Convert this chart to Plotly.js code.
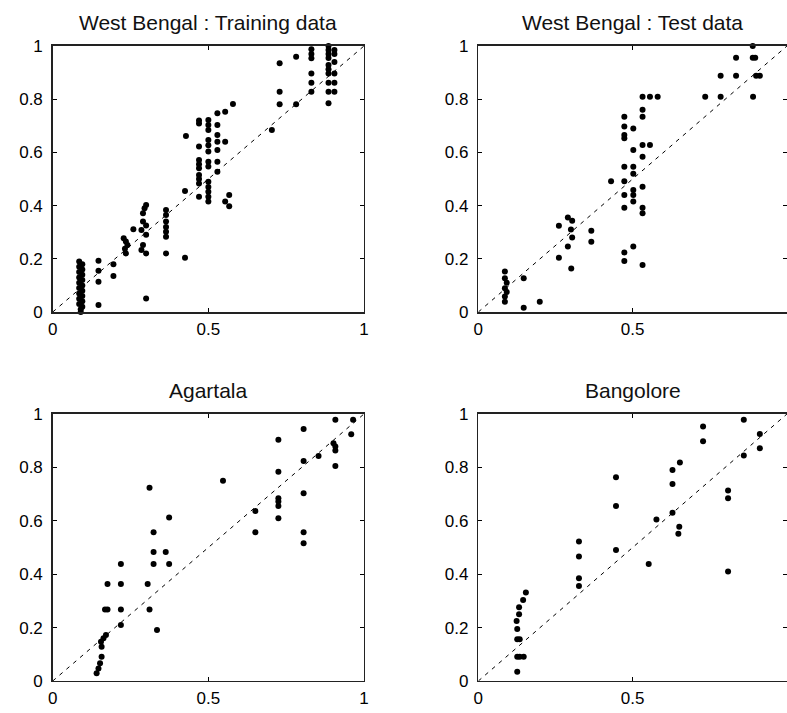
<!DOCTYPE html>
<html>
<head>
<meta charset="utf-8">
<script src="https://cdn.plot.ly/plotly-3.0.1.min.js"></script>
<style>html,body{margin:0;padding:0;background:#fff;}#plot{width:787px;height:713px;}</style>
</head>
<body>
<div id="plot"></div>
<script>
// ---- data ----
var titles = ["West Bengal : Training data", "West Bengal : Test data", "Agartala", "Bangolore"];
var xTickVals = [0, 0.5, 1];
var xTickText = ["0", "0.5", "1"];
var yTickVals = [0, 0.2, 0.4, 0.6, 0.8, 1];
var yTickText = ["0", "0.2", "0.4", "0.6", "0.8", "1"];
var diag = [0, 1];

var trainX = [0.085,0.095,0.085,0.095,0.085,0.095,0.085,0.095,0.085,0.095,0.085,0.095,0.085,0.095,0.085,0.095,0.085,0.095,0.09,0.09,
  0.147,0.147,0.147,0.147, 0.195,0.195,
  0.228,0.235,0.24,0.232,0.235, 0.259,
  0.300,0.295,0.29,0.29,0.30,0.285,0.30,0.29,0.285,0.30,0.30,
  0.364,0.364,0.364,0.364,0.364,0.364,0.364,
  0.425,0.425,0.428,
  0.47,0.47,0.47,0.47,0.47,0.47,0.47,0.47,0.47,0.47,
  0.50,0.50,0.50,0.50,0.50,0.50,0.50,0.50,0.50,0.50,0.50,0.50,0.50,
  0.529,0.529,0.529,0.529,0.529,0.529,0.529,
  0.554,0.579,0.554,0.567,0.554,0.567,
  0.704,0.729,0.729,0.729,0.782,0.782,
  0.831,0.831,0.831,0.831,0.831,0.831,
  0.886,0.886,0.886,0.886,0.886,0.886,0.886,0.886,0.886,0.886,
  0.905,0.905,0.905,0.905,0.905,0.905];
var trainY = [0.19,0.18,0.17,0.16,0.15,0.14,0.13,0.12,0.11,0.10,0.09,0.08,0.07,0.06,0.05,0.04,0.03,0.02,0.01,0.0,
  0.193,0.155,0.114,0.026, 0.18,0.135,
  0.277,0.265,0.252,0.238,0.22, 0.311,
  0.402,0.39,0.371,0.34,0.325,0.308,0.29,0.252,0.233,0.22,0.051,
  0.383,0.365,0.34,0.32,0.302,0.283,0.22,
  0.204,0.455,0.662,
  0.72,0.709,0.622,0.571,0.555,0.54,0.515,0.50,0.483,0.433,
  0.722,0.703,0.684,0.647,0.627,0.603,0.565,0.547,0.49,0.47,0.452,0.433,0.415,
  0.747,0.703,0.665,0.64,0.609,0.565,0.527,
  0.753,0.782,0.64,0.44,0.415,0.398,
  0.684,0.935,0.828,0.781,0.96,0.781,
  0.988,0.97,0.954,0.897,0.862,0.828,
  1.0,0.985,0.97,0.955,0.929,0.913,0.897,0.862,0.828,0.785,
  0.985,0.97,0.94,0.897,0.862,0.828];

var testX = [0.086,0.086,0.092,0.086,0.092,0.086,0.086,
  0.147,0.147,0.199,
  0.261,0.261,0.29,0.304,0.30,0.304,0.29,0.301,
  0.366,0.366,0.43,
  0.473,0.473,0.473,0.473,0.473,0.473,0.473,0.473,0.473,0.473,
  0.502,0.502,0.502,0.502,0.502,0.502,0.502,0.502,
  0.532,0.532,0.532,0.532,0.532,0.532,0.532,0.532,0.532,
  0.556,0.581,0.556,
  0.735,0.785,0.785,0.835,0.835,0.889,0.889,0.897,0.90,0.912,0.89];
var testY = [0.152,0.127,0.11,0.089,0.075,0.058,0.039,
  0.127,0.016,0.039,
  0.324,0.204,0.355,0.343,0.31,0.28,0.246,0.164,
  0.305,0.264,0.492,
  0.734,0.697,0.665,0.653,0.546,0.492,0.44,0.392,0.224,0.192,
  0.69,0.609,0.546,0.52,0.459,0.44,0.415,0.246,
  0.809,0.76,0.734,0.628,0.584,0.471,0.392,0.371,0.177,
  0.809,0.809,0.628,
  0.809,0.809,0.888,0.956,0.888,1.0,0.956,0.956,0.888,0.888,0.809];

var agartalaX = [0.141,0.147,0.152,0.157,0.157,0.155,0.163,0.171,
  0.168,0.176,0.176,0.219,0.219,0.219,0.219,
  0.305,0.311,0.311,0.324,0.324,0.324,0.335,0.363,0.374,0.374,
  0.547,0.651,0.651,0.725,0.725,0.725,0.725,0.725,0.725,
  0.806,0.806,0.806,0.806,0.806,0.854,0.908,0.902,0.908,0.908,0.908,0.965,0.959];
var agartalaY = [0.029,0.047,0.066,0.091,0.128,0.147,0.16,0.172,
  0.268,0.268,0.363,0.268,0.363,0.21,0.438,
  0.363,0.268,0.724,0.557,0.483,0.438,0.191,0.483,0.438,0.612,
  0.75,0.637,0.557,0.903,0.784,0.684,0.672,0.655,0.609,
  0.944,0.824,0.703,0.557,0.516,0.843,0.978,0.89,0.878,0.863,0.805,0.978,0.924];

var bangaloreX = [0.126,0.126,0.134,0.147,0.126,0.134,0.126,0.124,0.132,0.132,0.145,0.154,
  0.326,0.326,0.326,0.326,0.446,0.446,0.446,
  0.552,0.577,0.629,0.629,0.629,0.653,0.651,0.648,
  0.728,0.728,0.809,0.809,0.809,0.86,0.86,0.912,0.912];
var bangaloreY = [0.035,0.091,0.091,0.091,0.156,0.156,0.195,0.225,0.25,0.276,0.303,0.331,
  0.522,0.466,0.385,0.356,0.763,0.655,0.491,
  0.438,0.605,0.63,0.738,0.79,0.818,0.578,0.551,
  0.953,0.898,0.713,0.684,0.41,0.978,0.844,0.925,0.872];

// ---- chart ----
var sets = [[trainX, trainY], [testX, testY], [agartalaX, agartalaY], [bangaloreX, bangaloreY]];
var xDomains = [[0.067, 0.4625], [0.6078, 1.0], [0.067, 0.4625], [0.6078, 1.0]];
var yDomains = [[0.5624, 0.9355], [0.5624, 0.9355], [0.0449, 0.4194], [0.0449, 0.4194]];

var traces = [];
var layout = {
  width: 787, height: 713,
  margin: {l: 0, r: 0, t: 0, b: 0},
  paper_bgcolor: "#fff", plot_bgcolor: "#fff",
  showlegend: false,
  font: {family: "Liberation Sans, Arial, sans-serif", color: "#000", size: 17},
  annotations: []
};

for (var i = 0; i < 4; i++) {
  var s = i === 0 ? "" : String(i + 1);
  traces.push({
    x: diag, y: diag, xaxis: "x" + s, yaxis: "y" + s,
    type: "scatter", mode: "lines",
    line: {color: "#000", width: 1, dash: "4px,5px"},
    hoverinfo: "skip"
  });
  traces.push({
    x: sets[i][0], y: sets[i][1], xaxis: "x" + s, yaxis: "y" + s,
    type: "scatter", mode: "markers", cliponaxis: false,
    marker: {color: "#000", size: 6, line: {width: 0}}
  });
  var axCommon = {
    range: [0, 1], showgrid: false, zeroline: false,
    showline: true, linecolor: "#222", linewidth: 1.5, mirror: "ticks",
    ticks: "inside", ticklen: 4, tickcolor: "#000", tickwidth: 1,
    tickmode: "array", tickfont: {size: 17, color: "#000", family: "Liberation Sans, Arial, sans-serif"}
  };
  var xa = Object.assign({}, axCommon, {domain: xDomains[i], anchor: "y" + s, tickvals: xTickVals, ticktext: xTickText, ticklabelstandoff: 1});
  var ya = Object.assign({}, axCommon, {domain: yDomains[i], anchor: "x" + s, tickvals: yTickVals, ticktext: yTickText, ticklabelstandoff: 5});
  layout["xaxis" + s] = xa;
  layout["yaxis" + s] = ya;
  layout.annotations.push({
    text: titles[i], xref: "paper", yref: "paper",
    x: (xDomains[i][0] + xDomains[i][1]) / 2, y: yDomains[i][1],
    xanchor: "center", yanchor: "bottom", yshift: 10, showarrow: false,
    font: {size: 21, color: "#111", family: "Liberation Sans, Arial, sans-serif"}
  });
}

Plotly.newPlot("plot", traces, layout, {staticPlot: true, displayModeBar: false});
</script>
</body>
</html>
